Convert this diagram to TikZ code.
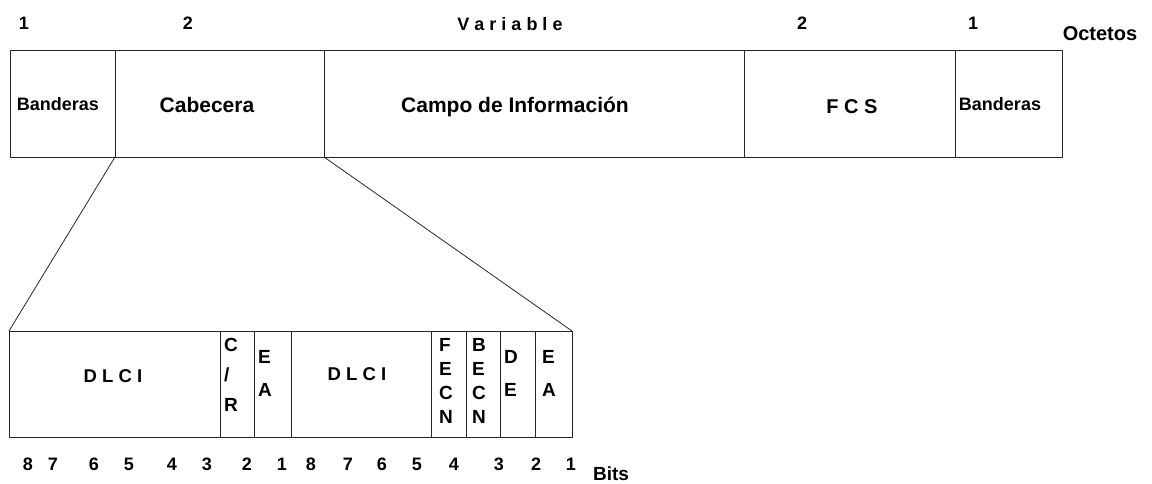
\documentclass[tikz,border=0pt]{standalone}
\usepackage{fontspec}
\setmainfont{Liberation Sans}
\begin{document}
\begin{tikzpicture}[x=1pt,y=-1pt,
  field/.style={draw=black!85,line width=0.9pt,anchor=north west,inner sep=0pt,outer sep=0pt},
  lbl/.style={font=\bfseries\fontsize{#1}{#1}\selectfont,inner sep=0pt,anchor=base},
  stack/.style={font=\bfseries\fontsize{19}{#1}\selectfont,inner sep=0pt,anchor=north west,align=left},
  link/.style={draw=black!85,line width=0.8pt}]
\useasboundingbox (0,0) rectangle (1152,483);
% top frame
\node[field,minimum width=105pt,minimum height=107pt] (b1) at (10,50) {};
\node[field,minimum width=209pt,minimum height=107pt] (cab) at (115,50) {};
\node[field,minimum width=420pt,minimum height=107pt] (campo) at (324,50) {};
\node[field,minimum width=211pt,minimum height=107pt] (fcs) at (744,50) {};
\node[field,minimum width=107pt,minimum height=107pt] (b2) at (955,50) {};
% top labels
\node[lbl=18] (o1) at (24,29) {1};
\node[lbl=18] (o2) at (188,29) {2};
\node[lbl=18] (ov) at (510,30) {V a r i a b l e};
\node[lbl=18] (o3) at (802,29) {2};
\node[lbl=18] (o4) at (973,29) {1};
\node[lbl=20] (oct) at (1100,40) {Octetos};
\node[lbl=18] (t1) at (58,110) {Banderas};
\node[lbl=21] (t2) at (207,112) {Cabecera};
\node[lbl=21] (t3) at (515,112) {Campo de Información};
\node[lbl=20] (t4) at (852,113) {F C S};
\node[lbl=18] (t5) at (1000,110) {Banderas};
% bottom frame
\node[field,minimum width=211pt,minimum height=106pt] (d1) at (9,331) {};
\node[field,minimum width=34pt,minimum height=106pt] (cr) at (220,331) {};
\node[field,minimum width=37pt,minimum height=106pt] (ea1) at (254,331) {};
\node[field,minimum width=140pt,minimum height=106pt] (d2) at (291,331) {};
\node[field,minimum width=35pt,minimum height=106pt] (fecn) at (431,331) {};
\node[field,minimum width=34pt,minimum height=106pt] (becn) at (466,331) {};
\node[field,minimum width=35pt,minimum height=106pt] (de) at (500,331) {};
\node[field,minimum width=37pt,minimum height=106pt] (ea2) at (535,331) {};
% connectors
\draw[link] (b1.south east) -- (d1.north west);
\draw[link] (cab.south east) -- (ea2.north east);
% bottom labels
\node[lbl=18.5] (l1) at (113,382) {D L C I};
\node[lbl=18.5] (l2) at (357,380) {D L C I};
\node[stack=30] (s1) at (224,338) {C\\/\\R};
\node[stack=33] (s2) at (258,350) {E\\A};
\node[stack=24] (s3) at (439,338) {F\\E\\C\\N};
\node[stack=24] (s4) at (472,338) {B\\E\\C\\N};
\node[stack=33] (s5) at (504,350) {D\\E};
\node[stack=33] (s6) at (542,350) {E\\A};
% bit numbers
\foreach \x/\n [count=\i] in {28/8,53/7,94/6,129/5,172/4,207/3,247/2,282/1,311/8,348/7,382/6,417/5,454/4,499/3,536/2,571/1}
  \node[lbl=18] (bit\i) at (\x,470) {\n};
\node[lbl=19] (bits) at (611,480) {Bits};
\end{tikzpicture}
\end{document}
